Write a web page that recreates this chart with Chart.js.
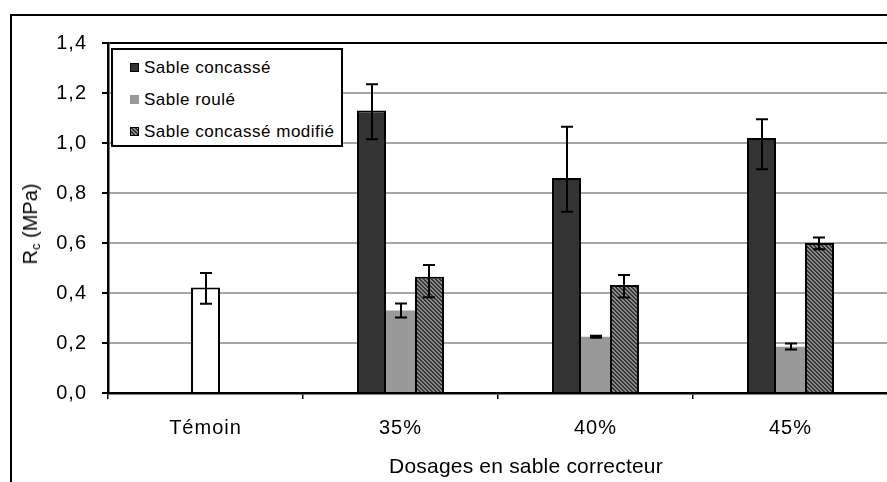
<!DOCTYPE html>
<html>
<head>
    <title>Rc - Dosages en sable correcteur</title>
    <script src="https://cdn.jsdelivr.net/npm/chart.js"></script>
    <style>
        body { margin: 0; overflow: hidden; background: #fff; font-family: "Liberation Sans", Arial, sans-serif; }
        #wrap { position: relative; width: 887px; height: 482px; overflow: hidden; }
        #frame { position: absolute; left: 10px; top: 14px; width: 1000px; height: 1000px;
                 border-left: 2px solid #000; border-top: 2px solid #000; }
        #graph { position: absolute; left: 0; top: 0; }
        #legend { position: absolute; left: 111px; top: 48px; width: 228px; height: 95px;
                  border: 2px solid #000; background: #fff; font-size: 17px; letter-spacing: 0.5px; }
        #legend .item { position: absolute; left: 17px; height: 20px; line-height: 20px; white-space: nowrap; }
        #legend .box { display: inline-block; width: 7px; height: 7px; border: 1px solid #000;
                       vertical-align: middle; margin-right: 5px; position: relative; top: -1px; }
        #ytitle { position: absolute; left: 30px; top: 224px; font-size: 20px; line-height: 20px;
                  white-space: nowrap; transform: translate(-50%, -50%) rotate(-90deg); }
        #ytitle sub { font-size: 13px; vertical-align: -3px; line-height: 0; }
        #xtitle { position: absolute; left: 526px; top: 455px; font-size: 21px; line-height: 21px;
                  letter-spacing: 0.2px; white-space: nowrap; transform: translateX(-50%); }
    </style>
</head>
<body>
<div id="wrap">
    <div id="frame"></div>
    <canvas id="graph" width="890" height="482"></canvas>
    <div id="legend"></div>
    <div id="ytitle">R<sub>c</sub> (MPa)</div>
    <div id="xtitle">Dosages en sable correcteur</div>
</div>
<script>
    // categories
    const categories = ['Témoin', '35%', '40%', '45%'];
    const seriesNames = ['Sable concassé', 'Sable roulé', 'Sable concassé modifié'];

    // Sable concassé
    const concasse = [null, 1.13, 0.86, 1.02];
    const concasseLow = [null, 1.015, 0.725, 0.895];
    const concasseHigh = [null, 1.235, 1.065, 1.095];

    // Sable roulé (la barre Témoin est dans cette série)
    const roule = [0.422, 0.33, 0.225, 0.185];
    const rouleLow = [0.357, 0.302, 0.221, 0.174];
    const rouleHigh = [0.48, 0.358, 0.229, 0.198];

    // Sable concassé modifié
    const modifie = [null, 0.465, 0.432, 0.60];
    const modifieLow = [null, 0.383, 0.382, 0.575];
    const modifieHigh = [null, 0.512, 0.472, 0.622];

    const yTickLabels = ['0,0', '0,2', '0,4', '0,6', '0,8', '1,0', '1,2', '1,4'];

    // motif hachuré
    const pc = document.createElement('canvas');
    pc.width = 4; pc.height = 4;
    const pctx = pc.getContext('2d');
    const img = pctx.createImageData(4, 4);
    for (let y = 0; y < 4; y++) {
        for (let x = 0; x < 4; x++) {
            const dark = ((x - y + 8) % 4) < 2;
            const v = dark ? 0x33 : 0x8c;
            const k = (y * 4 + x) * 4;
            img.data[k] = v; img.data[k + 1] = v; img.data[k + 2] = v; img.data[k + 3] = 255;
        }
    }
    pctx.putImageData(img, 0, 0);
    const ctx = document.getElementById('graph').getContext('2d');
    const hatch = ctx.createPattern(pc, 'repeat');

    const legendFills = ['#333333', '#999999', 'url(' + pc.toDataURL() + ')'];
    const legend = document.getElementById('legend');
    seriesNames.forEach((name, i) => {
        const it = document.createElement('div');
        it.className = 'item';
        it.style.top = (8 + i * 32) + 'px';
        const box = document.createElement('span');
        box.className = 'box';
        if (i === 2) box.style.backgroundImage = legendFills[i];
        else box.style.background = legendFills[i];
        if (i === 1) box.style.borderColor = '#999';
        it.appendChild(box);
        it.appendChild(document.createTextNode(name));
        legend.appendChild(it);
    });

    const errors = [[concasseLow, concasseHigh], [rouleLow, rouleHigh], [modifieLow, modifieHigh]];

    // espacement des lettres comme dans Excel
    const spacing = {
        id: 'spacing',
        beforeDraw(chart) { chart.ctx.letterSpacing = '1px'; }
    };

    const errorBars = {
        id: 'errorBars',
        afterDatasetsDraw(chart) {
            const c = chart.ctx;
            const yScale = chart.scales.y;
            c.save();
            c.strokeStyle = '#000';
            c.lineWidth = 2;
            errors.forEach((pair, i) => {
                const meta = chart.getDatasetMeta(i);
                meta.data.forEach((bar, j) => {
                    if (pair[0][j] == null) return;
                    const x = Math.round(bar.x);
                    const yl = yScale.getPixelForValue(pair[0][j]);
                    const yh = yScale.getPixelForValue(pair[1][j]);
                    c.beginPath();
                    c.moveTo(x, yl); c.lineTo(x, yh);
                    c.moveTo(x - 6, yl); c.lineTo(x + 6, yl);
                    c.moveTo(x - 6, yh); c.lineTo(x + 6, yh);
                    c.stroke();
                });
            });
            c.restore();
        }
    };

    new Chart(ctx, {
        type: 'bar',
        data: {
            labels: categories,
            datasets: [{
                label: seriesNames[0],
                data: concasse,
                backgroundColor: '#333333',
                borderColor: '#000',
                borderWidth: 2
            }, {
                label: seriesNames[1],
                data: roule,
                backgroundColor: ['#ffffff', '#999999', '#999999', '#999999'],
                borderColor: ['#000', '#999999', '#999999', '#999999'],
                borderWidth: [2, 0, 0, 0]
            }, {
                label: seriesNames[2],
                data: modifie,
                backgroundColor: hatch,
                borderColor: '#000',
                borderWidth: 2
            }]
        },
        options: {
            responsive: false,
            animation: false,
            categoryPercentage: 0.446,
            barPercentage: 1,
            layout: { padding: { left: 0, top: 43, right: 2, bottom: 0 } },
            plugins: { legend: { display: false }, tooltip: { enabled: false } },
            scales: {
                x: {
                    afterFit(scale) { scale.height = 89; },
                    grid: { offset: true, drawOnChartArea: false, color: '#000', lineWidth: 1.5, tickLength: 6 },
                    border: { color: '#000', width: 2.5 },
                    ticks: { color: '#000', padding: 17, font: { family: '"Liberation Sans", Arial, sans-serif', size: 20 } }
                },
                y: {
                    min: 0,
                    max: 1.4,
                    afterFit(scale) { scale.width = 108; },
                    grid: {
                        color: (c) => (c.tick && c.tick.value >= 1.39) ? '#000' : '#a6a6a6',
                        lineWidth: 2,
                        tickColor: '#000',
                        tickLength: 6
                    },
                    border: { color: '#000', width: 2.5 },
                    ticks: {
                        stepSize: 0.2,
                        color: '#000',
                        padding: 15,
                        font: { family: '"Liberation Sans", Arial, sans-serif', size: 20 },
                        callback: (v, i) => yTickLabels[i]
                    }
                }
            }
        },
        plugins: [spacing, errorBars]
    });
</script>
</body>
</html>
